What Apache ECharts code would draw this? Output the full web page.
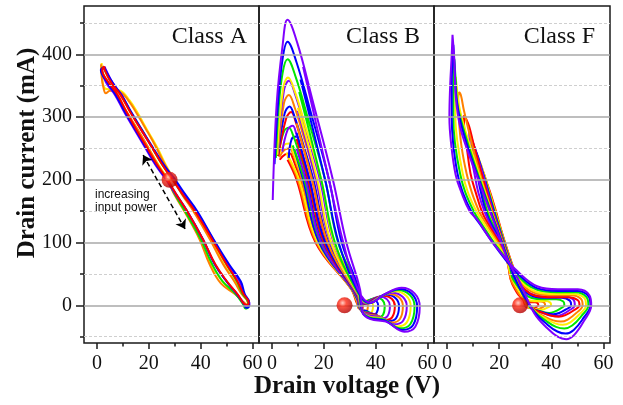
<!DOCTYPE html>
<html><head><meta charset="utf-8">
<script src="https://cdn.jsdelivr.net/npm/echarts@6.0.0/dist/echarts.min.js"></script>
<style>html,body{margin:0;padding:0;background:#fff}#c{width:623px;height:405px}</style>
</head><body><div id="c"></div>
<script>
// ---- ticks / labels ----
const xTickLabels = [0, 20, 40, 60];
const xMinorTicks = [10, 30, 50];
const yTickLabels = [0, 100, 200, 300, 400];
const yMinorTicks = [-50, 50, 150, 250, 350, 450];
const panelTitles = ['Class A', 'Class B', 'Class F'];
const xTitle = 'Drain voltage (V)';
const yTitle = 'Drain current (mA)';
const noteLines = ['increasing', 'input power'];

// ---- Class A loops (V, mA) ----
const A_yellow = [[1.8,386],[2,364],[3,346],[5.5,344],[9,342],[12.5,327],[15.5,308],[19.3,280],[23.2,252],[26.5,224],[29.8,200],[33.2,176],[37.5,150],[43.9,105],[49,65],[53.2,38],[56,18],[58.2,5],[58,0],[57,3],[53.5,18],[48.5,38],[44,65],[39.9,105],[34,150],[30.2,176],[27.5,200],[23.7,224],[19.7,252],[15.7,280],[11.5,308],[8,335],[4.2,355],[2,375],[1.8,386]];
const A_orange = [[1.6,384],[1.8,364],[2.6,345],[3.4,338],[5,342],[8.8,340],[12.2,326],[15,308],[19,280],[22.8,252],[26.2,224],[29.5,200],[32.9,176],[37.2,150],[43.6,105],[48.7,65],[53,38],[55.8,18],[58.2,5],[57.8,0],[56.8,4],[53.2,18],[47.8,35],[43.5,65],[39.6,105],[33.7,150],[29.9,176],[27.2,200],[23.5,224],[19.7,252],[15.7,280],[11.5,308],[7.5,335],[4,355],[1.8,375],[1.6,384]];
const A_green = [[2.6,380],[3,375],[5.5,355],[9.3,335],[13,308],[17.2,280],[21.2,252],[25.2,224],[29.3,200],[33.2,176],[38,150],[44.6,105],[50,65],[54,38],[56.2,18],[58.3,5],[58.2,-3],[57.2,-5],[56.5,1],[53.5,18],[48.5,38],[44.5,65],[40.1,105],[34,150],[30.2,176],[27,200],[23,224],[19,252],[15,280],[11,308],[7.5,335],[4.2,355],[1.7,375],[2.6,380]];
const A_violet = [[3,380],[3.5,375],[6,355],[9.5,335],[13,308],[17,280],[21.2,252],[25.5,224],[29.8,200],[33.7,176],[38.3,150],[44.8,105],[50.6,65],[55,38],[56.8,18],[58.7,5],[58.8,0],[58,-2],[57,1],[54,18],[50,38],[45.5,65],[40.9,105],[34.8,150],[30.5,176],[26.7,200],[22.5,224],[18.5,252],[14.5,280],[10.5,308],[7,335],[3.5,355],[2,375],[3,380]];
const A_blue = [[2.8,380],[3.3,375],[6,355],[9.5,335],[13.2,308],[17.3,280],[21.5,252],[25.8,224],[30.2,200],[34.2,176],[38.7,150],[45,105],[51,65],[55.5,38],[57,18],[58.7,5],[58.6,-2],[57.5,-4],[56.8,1],[54,18],[50,38],[45.5,65],[40.9,105],[34.8,150],[30.7,176],[27,200],[22.8,224],[18.8,252],[14.8,280],[10.8,308],[7.3,335],[4,355],[1.5,375],[2.8,380]];
const A_red = [[2.8,381],[3,375],[5.5,355],[9.1,335],[12.8,308],[17,280],[21.2,252],[25.2,224],[29.2,200],[33.2,176],[37.8,150],[44.4,105],[50,65],[54.2,38],[56.5,18],[58.5,5],[58.3,1],[57.5,1],[54.2,18],[50.2,38],[45.7,65],[40.9,105],[34.8,150],[30.7,176],[27.2,200],[23.2,224],[19.2,252],[15.2,280],[11.4,308],[8,335],[4.5,355],[2,375],[2.8,381]];

// ---- Class B loops ----
const B1_red = [[3,232],[5.1,240.6],[7,242],[7.9,235.7],[9.2,221],[11,200],[18,100],[31.5,25],[33.2,-2.4],[33.4,-4.4],[33.9,-5.2],[34.5,-8.4],[34.9,-6.8],[35,-0.4],[34.8,3.8],[34.4,5.6],[33.9,3.8],[33.4,0.8],[30.7,25],[16.8,100],[9.5,200],[6,232]];
const B2_orange = [[2.8,236],[4.9,248],[7,250],[8,242.5],[9.5,225],[11.5,200],[18.4,100],[31.6,25],[33.3,-3],[33.8,-5.5],[34.8,-6.5],[36,-10.5],[36.7,-8.5],[37,-0.5],[36.7,4.8],[35.8,7],[34.8,4.8],[33.8,1],[30.8,25],[17.2,100],[10,200],[6,238]];
const B3_yellow = [[2.5,238],[4.6,255.2],[6.5,258],[7.7,249.3],[9.5,229],[12,200],[18.8,100],[31.7,25],[33.5,-3.6],[34.3,-6.6],[35.8,-7.8],[37.5,-12.6],[38.6,-10.2],[39,-0.6],[38.5,5.7],[37.3,8.4],[35.8,5.7],[34.3,1.2],[30.9,25],[17.6,100],[10.5,200],[5.5,243]];
const B4_blue = [[6.5,235],[7.6,265],[9.5,269],[10.4,258.6],[11.7,234.5],[13.5,200],[19.4,100],[31.8,25],[33.7,-4.2],[34.7,-7.7],[36.7,-9.1],[39,-14.7],[40.4,-11.9],[41,-0.7],[40.3,6.7],[38.7,9.8],[36.7,6.7],[34.7,1.4],[31,25],[18.2,100],[12,200],[8.5,250]];
const B5_green = [[2.3,238],[4.6,276.7],[6.5,283],[8.2,270.5],[10.6,241.5],[14,200],[20,100],[32,25],[33.9,-5.4],[35.2,-9.9],[37.8,-11.7],[40.9,-18.9],[42.8,-15.3],[43.5,-0.9],[42.6,8.6],[40.4,12.6],[37.8,8.6],[35.2,1.8],[31.2,25],[18.8,100],[12.5,200],[8,255]];
const B6_violet = [[4,245],[6.1,280.3],[8,286],[9.4,273],[11.6,243],[14.5,200],[20.2,100],[32,25],[34,-6],[35.6,-11],[38.7,-13],[42.4,-21],[44.6,-17],[45.5,-1],[44.4,9.5],[41.8,14],[38.7,9.5],[35.6,2],[31.2,25],[19,100],[13,200],[9.5,250]];
const B7_red = [[2.5,238],[5.5,298.2],[7.4,308],[9.2,291.8],[11.9,254],[15.5,200],[21.3,100],[32.3,25],[34.2,-6.6],[36,-12.1],[39.6,-14.3],[43.8,-23.1],[46.4,-18.7],[47.4,-1.1],[46.2,10.5],[43.2,15.4],[39.6,10.5],[36,2.2],[31.5,25],[20.1,100],[14,200],[9.5,265]];
const B8_blue = [[2.3,240],[4.9,306.1],[6.8,317],[8.8,299.5],[11.9,258.5],[16,200],[21.8,100],[32.4,25],[34.3,-7.2],[36.3,-13.2],[40.3,-15.6],[45,-25.2],[47.9,-20.4],[49,-1.2],[47.7,11.4],[44.3,16.8],[40.3,11.4],[36.3,2.4],[31.6,25],[20.6,100],[14.5,200],[9.5,275]];
const B9_orange = [[2.2,240],[4.6,321.7],[6.5,335],[8.8,314.8],[12.3,267.5],[17,200],[22.7,100],[32.6,25],[34.5,-7.8],[36.7,-14.3],[41,-16.9],[46.1,-27.3],[49.3,-22.1],[50.5,-1.3],[49.1,12.4],[45.4,18.2],[41,12.4],[36.7,2.6],[31.8,25],[21.5,100],[15.5,200],[9.5,290]];
const B10_violet = [[2,242],[4.6,341.8],[6.5,358],[9.1,334.3],[13.1,279],[18.5,200],[23.8,100],[32.9,25],[34.6,-8.6],[37,-15.8],[41.7,-18.7],[47.2,-30.2],[50.6,-24.5],[52,-1.4],[50.4,13.7],[46.4,20.2],[41.7,13.7],[37,2.9],[32.1,25],[22.6,100],[17,200],[10,310]];
const B11_yellow = [[2,240],[4.3,345.8],[6.2,363],[9,338.5],[13.2,281.5],[19,200],[24,100],[33,25],[34.7,-9.6],[37.3,-17.6],[42.4,-20.8],[48.4,-33.6],[52,-27.2],[53.5,-1.6],[51.8,15.2],[47.5,22.4],[42.4,15.2],[37.3,3.2],[32.2,25],[22.8,100],[17.5,200],[10,315]];
const B12_green = [[1.5,235],[2.5,310],[4.1,370.2],[6,392],[9.2,363.2],[14,296],[20.5,200],[25.5,100],[33.3,25],[34.8,-10.4],[37.6,-19.1],[43.1,-22.6],[49.5,-36.5],[53.4,-29.6],[55,-1.7],[53.2,16.5],[48.6,24.4],[43.1,16.5],[37.6,3.5],[32.5,25],[24.3,100],[19,200],[10.5,340]];
const B13_blue = [[1,225],[2.3,320],[4.1,392.7],[6,420],[9.5,387],[14.8,310],[22,200],[26.9,100],[33.6,25],[34.9,-11.2],[37.8,-20.5],[43.5,-24.2],[50.2,-39.1],[54.4,-31.6],[56,-1.9],[54.1,17.7],[49.3,26],[43.5,17.7],[37.8,3.7],[32.8,25],[25.7,100],[20.5,200],[11,360]];
const B14_violet = [[0.3,168],[1.8,320],[4.1,414],[6,455],[9.85,417],[15.6,327.5],[23.5,200],[28.7,100],[34,25],[35,-12],[38,-22],[44,-26],[51,-42],[55.3,-34],[57,-2],[55,19],[50,28],[44,19],[38,4],[33.2,25],[27.5,100],[22,200],[12,380]];

// ---- Class F loops ----
const F1_red = [[13.5,215],[14,211],[15.3,195],[16.7,178],[18.4,155],[21.5,110],[24.6,70],[28,30],[30,-1.2],[31.2,-3.4],[32.1,-4.7],[32.8,-5],[33.5,-4.4],[34.4,-2.3],[35,0],[34.8,3.2],[33.8,5.1],[32.1,5.1],[30.3,6],[25,34],[23.5,62],[21.6,100],[19,125],[16.6,148],[15.2,180],[14,205],[13.5,215]];
const F2_orange = [[12.5,228],[13,224],[14.5,205],[16,185],[18.2,155],[21.4,110],[24.5,70],[27.9,30],[30.5,-1.4],[32.1,-4.1],[33.4,-5.6],[34.5,-6],[35.5,-5.2],[36.7,-2.8],[37.6,0],[37.4,3.8],[35.9,6],[33.4,6],[30.9,7.1],[25,36],[23.5,63],[21.5,100],[18.6,125],[16.3,148],[14.8,180],[13.2,210],[12.5,228]];
const F3_yellow = [[11.5,240],[12,236],[13.7,215],[15.5,190],[18,155],[21.3,110],[24.4,70],[27.9,30],[30.9,-1.7],[33,-4.8],[34.5,-6.5],[35.9,-7],[37.2,-6.1],[38.7,-3.3],[39.9,0],[39.6,4.3],[37.8,6.9],[34.6,6.9],[31.4,8.1],[25.5,38],[23.5,64],[21.2,100],[18.3,125],[16,148],[14.3,180],[12.7,215],[11.5,240]];
const F4_green = [[10.5,250],[11,246],[13,220],[15,195],[17.8,155],[21.2,110],[24.3,70],[27.8,30],[31.7,-2.9],[34.8,-8.2],[37.2,-11.1],[39.2,-12],[41,-10.4],[43.3,-5.6],[45,0],[44.6,6.2],[41.9,9.9],[37.2,9.9],[32.5,11.7],[25.5,40],[24,64],[21,100],[18,125],[15.5,148],[13.5,180],[12,215],[10.5,250]];
const F5_blue = [[9.5,262],[10,258],[12,235],[14.5,200],[17.6,155],[21,110],[24.2,70],[27.8,30],[32.2,-3.4],[35.8,-9.6],[38.5,-13],[40.8,-14],[43,-12.2],[45.6,-6.5],[47.6,0],[47.1,7.5],[44,12],[38.5,12],[33.1,14.1],[26,42],[24,66],[21,100],[17.5,125],[15,148],[13,180],[11.5,210],[10,240],[9.5,262]];
const F6_violet = [[8.5,277],[9,272],[11,245],[14,205],[17.3,155],[20.9,110],[24.1,70],[27.7,30],[32.4,-4.1],[36.3,-11.7],[39.2,-15.8],[41.7,-17],[44.1,-14.8],[46.9,-7.9],[49,0],[48.5,8.8],[45.1,14],[39.3,14],[33.4,16.5],[26,44],[24,67],[20.5,100],[17,125],[14.5,148],[12,180],[10.5,210],[9,245],[8.5,277]];
const F7_red = [[6.5,303],[7,300],[8.5,285],[10,260],[13.6,205],[17,155],[20.7,110],[24,70],[27.7,30],[32.7,-4.3],[37,-12.3],[40.1,-16.7],[42.8,-18],[45.4,-15.7],[48.5,-8.3],[50.8,0],[50.2,8.2],[46.6,13],[40.2,13],[33.8,15.3],[26,46],[24,68],[20,100],[16,128],[13.5,148],[11,180],[9,210],[7.5,255],[6.5,290],[6.5,303]];
const F8_orange = [[4.6,340],[5.3,335],[6.5,310],[9.4,260],[13.3,200],[16.8,155],[20.5,110],[23.9,70],[27.6,30],[32.9,-6.2],[37.4,-17.8],[40.7,-24],[43.6,-25.9],[46.3,-22.6],[49.6,-12],[52,0],[51.4,10.1],[47.6,16.1],[40.8,16.1],[34.1,18.9],[26,48],[23.5,70],[19.5,100],[15.5,127],[12.5,148],[9.5,180],[7.5,210],[5.5,255],[4.5,300],[4.3,330],[4.6,340]];
const F9_yellow = [[3.3,364],[3.8,345],[4.5,320],[6.2,290],[9,252],[13,200],[16.6,155],[20.4,110],[23.8,70],[27.6,30],[33.2,-7.5],[37.9,-21.2],[41.4,-28.7],[44.4,-31],[47.3,-27],[50.7,-14.4],[53.3,0],[52.7,11.4],[48.6,18.1],[41.5,18.1],[34.4,21.3],[26,50],[23,72],[19,100],[14.5,128],[11.5,148],[8,180],[6,210],[4,260],[3.2,300],[3.2,340],[3.3,364]];
const F10_green = [[2.8,392],[3.3,360],[4,320],[5.7,290],[8.6,250],[12.6,200],[16.4,155],[20.3,110],[23.7,70],[27.5,30],[33.3,-8.9],[38.2,-25.3],[41.8,-34.3],[45,-37],[48,-32.2],[51.5,-17.1],[54.2,0],[53.5,13.1],[49.3,20.9],[41.9,20.9],[34.6,24.6],[26,52],[22.5,75],[18,100],[13.5,128],[10.5,148],[7,180],[5,210],[3,260],[2.4,300],[2.4,350],[2.8,392]];
const F11_blue = [[2.4,415],[2.9,380],[3.6,330],[5.3,290],[8.3,248],[12.3,200],[16.2,155],[20.2,110],[23.6,70],[27.5,30],[33.5,-10.8],[38.5,-30.8],[42.3,-41.7],[45.5,-45],[48.6,-39.2],[52.2,-20.8],[55,0],[54.3,14.4],[50,23],[42.4,23],[34.7,27],[26,55],[22,75],[17.5,100],[12.5,130],[9.5,148],[6,180],[4,210],[2.3,260],[1.8,300],[1.8,350],[2.2,400],[2.4,415]];
const F12_violet = [[2.1,431],[2.8,390],[3.4,330],[5,285],[8,245],[12,200],[16,155],[20,110],[23.5,70],[28,36],[33.5,-13],[38.6,-37],[42.4,-50],[45.7,-54],[48.8,-47],[52.5,-25],[55.3,0],[54.6,16],[50.2,25.5],[42.5,25.5],[34.8,30],[25.8,59],[22,77],[16.8,104],[11.7,136],[8.7,150],[5.5,180],[3.3,208],[1.5,260],[0.9,300],[1.2,350],[1.8,400],[2.1,431]];

// ---- quiescent points and annotation arrow ----
const markerA = [[28, 200]];
const markerB = [[28, 0]];
const markerF = [[28, 0]];
const arrowA = [[17.8, 239.5], [34, 121.6]];

const COL = {red:'#ff0000', orange:'#ff8000', yellow:'#ffee00', green:'#00e600', blue:'#0000ff', violet:'#8000ff'};

const panelCurves = [
  [[A_yellow,'yellow'],[A_orange,'orange'],[A_green,'green'],[A_violet,'violet'],[A_blue,'blue'],[A_red,'red']],
  [[B1_red,'red'],[B2_orange,'orange'],[B3_yellow,'yellow'],[B4_blue,'blue'],[B5_green,'green'],[B6_violet,'violet'],[B7_red,'red'],[B8_blue,'blue'],[B9_orange,'orange'],[B10_violet,'violet'],[B11_yellow,'yellow'],[B12_green,'green'],[B13_blue,'blue'],[B14_violet,'violet']],
  [[F1_red,'red'],[F2_orange,'orange'],[F3_yellow,'yellow'],[F4_green,'green'],[F5_blue,'blue'],[F6_violet,'violet'],[F7_red,'red'],[F8_orange,'orange'],[F9_yellow,'yellow'],[F10_green,'green'],[F11_blue,'blue'],[F12_violet,'violet']]
];
const markers = [markerA, markerB, markerF];

const SERIF = '"Liberation Serif", "Times New Roman", serif';
const gridPos = [{left:84,width:175},{left:259,width:175},{left:434,width:176}];
const XMIN = -5, XMAX = 62.5, YMIN = -60, YMAX = 477;

const grids = gridPos.map(g => ({left:g.left, width:g.width, top:6, height:337, show:true, borderColor:'#1a1a1a', borderWidth:1.5, backgroundColor:'transparent'}));

const xAxes = [], yAxes = [];
const xMain = [], yMain = [];
const noLine = {show:false, onZero:false};
gridPos.forEach((g, i) => {
  xMain.push(xAxes.length);
  xAxes.push({gridIndex:i, type:'value', position:'bottom', min:XMIN, max:XMAX,
    axisLine:noLine, splitLine:{show:false},
    axisTick:{show:true, customValues:xTickLabels, length:6, lineStyle:{color:'#1a1a1a', width:1.5}},
    axisLabel:{show:true, customValues:xTickLabels, margin:11, fontFamily:SERIF, fontSize:20, color:'#111'}});
  xAxes.push({gridIndex:i, type:'value', position:'bottom', min:XMIN, max:XMAX,
    axisLine:noLine, splitLine:{show:false}, axisLabel:{show:false},
    axisTick:{show:true, customValues:xMinorTicks, length:3.5, lineStyle:{color:'#1a1a1a', width:1.5}}});
  yMain.push(yAxes.length);
  if (i === 0) {
    yAxes.push({gridIndex:0, type:'value', position:'left', min:YMIN, max:YMAX,
      axisLine:noLine, splitLine:{show:false},
      axisTick:{show:true, customValues:yTickLabels, length:8, lineStyle:{color:'#1a1a1a', width:1.5}},
      axisLabel:{show:true, customValues:yTickLabels, margin:12, fontFamily:SERIF, fontSize:20, color:'#111'}});
    yAxes.push({gridIndex:0, type:'value', position:'left', min:YMIN, max:YMAX,
      axisLine:noLine, splitLine:{show:false}, axisLabel:{show:false},
      axisTick:{show:true, customValues:yMinorTicks, length:4, lineStyle:{color:'#1a1a1a', width:1.5}}});
  } else {
    yAxes.push({gridIndex:i, type:'value', position:'left', min:YMIN, max:YMAX,
      axisLine:noLine, splitLine:{show:false}, axisTick:{show:false}, axisLabel:{show:false}});
  }
});

const series = [];
gridPos.forEach((g, i) => {
  series.push({type:'line', xAxisIndex:xMain[i], yAxisIndex:yMain[i], data:[[XMIN+0.5, YMIN+1]], symbol:'none',
    lineStyle:{opacity:0}, silent:true, z:1, animation:false,
    markLine:{silent:true, symbol:['none','none'], label:{show:false}, animation:false,
      data:[...yTickLabels.map(v => ({yAxis:v, lineStyle:{color:'#a9a9a9', width:1.5, type:'solid'}})),
            ...yMinorTicks.map(v => ({yAxis:v, lineStyle:{color:'#cfcfcf', width:1, type:[3,2]}}))]}});
  panelCurves[i].forEach(([d, c]) => {
    series.push({type:'line', xAxisIndex:xMain[i], yAxisIndex:yMain[i], data:d, smooth:0.4,
      symbol:'none', silent:true, z:3, lineStyle:{color:COL[c], width:2}});
  });
  series.push({type:'scatter', xAxisIndex:xMain[i], yAxisIndex:yMain[i], data:markers[i], symbol:'circle', symbolSize:16, z:10,
    itemStyle:{color:{type:'radial', x:0.38, y:0.35, r:0.65, colorStops:[{offset:0,color:'#ffc4b8'},{offset:0.35,color:'#ff2a14'},{offset:1,color:'#b30000'}]}}});
});
series.push({type:'lines', coordinateSystem:'cartesian2d', xAxisIndex:xMain[0], yAxisIndex:yMain[0], z:6,
  symbol:['arrow','arrow'], symbolSize:9, silent:true,
  lineStyle:{color:'#000', width:1.5, type:[5,3], opacity:1, curveness:0},
  data:[{coords:arrowA}]});

const titleRight = [247, 420, 595];
const graphic = [];
panelTitles.forEach((t, i) => graphic.push({type:'text', x:titleRight[i], y:37,
  style:{text:t, font:'24px ' + SERIF, fill:'#111', align:'right', verticalAlign:'middle'}}));
graphic.push({type:'text', x:95, y:195, style:{text:noteLines[0], font:'12px "Liberation Sans", Arial, sans-serif', fill:'#111', align:'left', verticalAlign:'middle'}});
graphic.push({type:'text', x:95, y:208, style:{text:noteLines[1], font:'12px "Liberation Sans", Arial, sans-serif', fill:'#111', align:'left', verticalAlign:'middle'}});
graphic.push({type:'text', x:347, y:387, style:{text:xTitle, font:'bold 25px ' + SERIF, fill:'#111', align:'center', verticalAlign:'middle'}});
graphic.push({type:'text', x:28, y:153, rotation:Math.PI/2, style:{text:yTitle, font:'bold 25px ' + SERIF, fill:'#111', align:'center', verticalAlign:'middle'}});

const chart = echarts.init(document.getElementById('c'), null, {renderer:'canvas'});
chart.setOption({animation:false, backgroundColor:'#fff', grid:grids, xAxis:xAxes, yAxis:yAxes, series:series, graphic:graphic});
</script></body></html>
